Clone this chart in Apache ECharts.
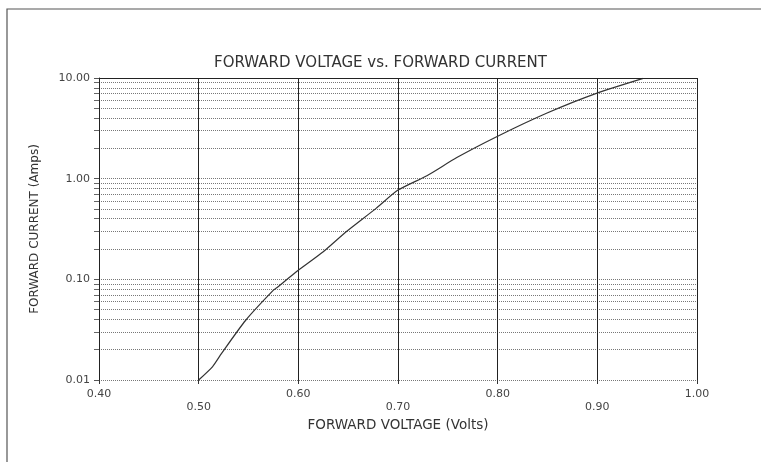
<!DOCTYPE html>
<html>
<head>
<meta charset="utf-8">
<script src="https://cdn.jsdelivr.net/npm/echarts@6/dist/echarts.min.js"></script>
<style>
html,body{margin:0;padding:0;background:#fff;}
#chart{width:761px;height:462px;}
</style>
</head>
<body>
<div id="chart"></div>
<script>
var voltage = [0.500, 0.514, 0.523, 0.547, 0.575, 0.580, 0.598, 0.625, 0.648, 0.678, 0.700, 0.729, 0.759, 0.799, 0.849, 0.899, 0.946];
var current = [0.010, 0.0136, 0.0184, 0.039, 0.078, 0.085, 0.119, 0.188, 0.297, 0.507, 0.77, 1.07, 1.62, 2.61, 4.46, 7.03, 9.9];
var xTicks = [0.40, 0.50, 0.60, 0.70, 0.80, 0.90, 1.00];
var yTicks = [0.01, 0.10, 1.00, 10.00];

var pts = voltage.map(function(v,i){return [v,current[i]];});
var font = 'DejaVu Sans';
var chart = echarts.init(document.getElementById('chart'));
chart.setOption({
  animation:false,
  backgroundColor:'#fff',
  title:{
    text:'FORWARD VOLTAGE vs. FORWARD CURRENT',
    left:'center', top:51,
    textStyle:{fontFamily:font,fontSize:15,fontWeight:'normal',color:'#333'}
  },
  graphic:[
    {type:'polyline',shape:{points:[[7,462],[7,9],[761,9]]},style:{stroke:'#555',lineWidth:1.2,fill:null},silent:true}
  ],
  grid:{left:99,right:64,top:78,bottom:82},
  xAxis:{
    type:'value',min:0.4,max:1.0,interval:0.1,
    name:'FORWARD VOLTAGE (Volts)',nameLocation:'middle',nameGap:38,
    nameTextStyle:{fontFamily:font,fontSize:13.5,color:'#333'},
    axisLine:{show:false},
    axisTick:{show:true,length:4,lineStyle:{color:'#333'}},
    splitLine:{show:true,lineStyle:{color:'#222',width:1}},
    axisLabel:{
      fontFamily:font,fontSize:11,color:'#444',margin:8,
      formatter:function(v){
        var i = Math.round((v-0.4)*10);
        var s = v.toFixed(2);
        return (i%2===1) ? '\n'+s : s;
      },
      lineHeight:13
    }
  },
  yAxis:{
    type:'log',logBase:10,min:0.01,max:10,
    name:'FORWARD CURRENT (Amps)',nameLocation:'middle',nameGap:58,
    nameTextStyle:{fontFamily:font,fontSize:12,color:'#333'},
    axisLine:{show:true,lineStyle:{color:'#222'}},
    axisTick:{show:true,length:5,lineStyle:{color:'#555'}},
    minorTick:{show:true,splitNumber:9,length:5,lineStyle:{color:'#666'}},
    splitLine:{show:true,lineStyle:{color:'#777',type:'dotted',width:1}},
    minorSplitLine:{show:true,lineStyle:{color:'#777',type:'dotted',width:1}},
    axisLabel:{fontFamily:font,fontSize:11,color:'#444',margin:9,
      formatter:function(v){return Number(v).toFixed(2);}}
  },
  series:[{
    type:'line',data:pts,showSymbol:false,smooth:0.2,
    lineStyle:{color:'#333',width:1.2},
    markLine:{silent:true,symbol:'none',label:{show:false},
      lineStyle:{color:'#222',type:'solid',width:1},
      data:[{yAxis:10}]}
  }]
});
</script>
</body>
</html>
